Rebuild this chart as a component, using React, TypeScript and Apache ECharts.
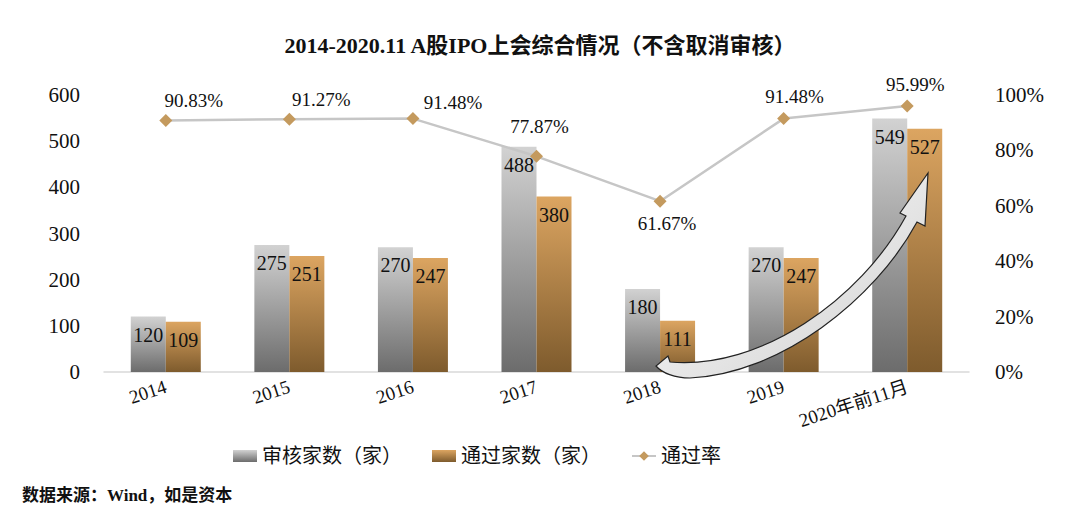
import React, { useEffect, useRef } from "react";
import * as echarts from "echarts";

const categories = ["2014", "2015", "2016", "2017", "2018", "2019", "2020年前11月"];
const reviewed = [120, 275, 270, 488, 180, 270, 549];
const passed = [109, 251, 247, 380, 111, 247, 527];
const passRate = [90.83, 91.27, 91.48, 77.87, 61.67, 91.48, 95.99];
const leftTicks = [0, 600, 100];
const rightTicks = [0, 100, 20];

const rateLabelOffsets: [number, number][] = [
  [28, 2], [32, 2], [40, 6], [3, -8], [7, 0], [11, 0], [8, 0],
];
const rateLabelPos = ["top", "top", "top", "top", "bottom", "top", "top"];

const SERIF = "'Liberation Serif', 'DejaVu Serif', 'Noto Sans CJK SC', serif";

const arrowPath =
  "M 670 362 C 760 370, 860 300, 906 216 L 900 213 L 928 173 L 925 226 L 917 222 C 875 300, 780 374, 690 378 C 675 378, 662 373, 656 366 L 668 356 Z";

export default function App() {
  const ref = useRef<HTMLDivElement>(null);
  useEffect(() => {
    document.body.style.margin = "0";
    if (!ref.current) return;
    try {
      echarts.graphic.registerShape("arrowShape", echarts.graphic.extendPath(arrowPath, {}));
    } catch (e) {}
    const chart = echarts.init(ref.current, null, { renderer: "svg" });
    const grayGrad = new echarts.graphic.LinearGradient(0, 0, 0, 1, [
      { offset: 0, color: "#d2d2d2" },
      { offset: 1, color: "#6c6c6c" },
    ]);
    const goldGrad = new echarts.graphic.LinearGradient(0, 0, 0, 1, [
      { offset: 0, color: "#dca561" },
      { offset: 1, color: "#7e5b2d" },
    ]);
    chart.setOption({
      animation: false,
      backgroundColor: "#ffffff",
      title: {
        text: "2014-2020.11 A股IPO上会综合情况（不含取消审核）",
        left: "center",
        top: 29,
        textStyle: { fontFamily: SERIF, fontSize: 22, fontWeight: "bold", color: "#111" },
      },
      grid: { left: 104, right: 111, top: 95, bottom: 153, containLabel: false },
      legend: {
        top: 441,
        left: 228,
        itemWidth: 24,
        itemHeight: 12,
        itemGap: 30,
        textStyle: { fontFamily: SERIF, fontSize: 20, color: "#111" },
        data: [
          { name: "审核家数（家）", icon: "rect" },
          { name: "通过家数（家）", icon: "rect" },
          { name: "通过率" },
        ],
      },
      xAxis: {
        type: "category",
        data: categories,
        axisLine: { show: true, lineStyle: { color: "#d9d9d9", width: 1.5 } },
        axisTick: { show: false },
        axisLabel: {
          rotate: 18,
          margin: 14,
          fontFamily: SERIF,
          fontSize: 19,
          color: "#111",
          interval: 0,
        },
      },
      yAxis: [
        {
          type: "value",
          min: leftTicks[0],
          max: leftTicks[1],
          interval: leftTicks[2],
          splitLine: { show: false },
          axisLine: { show: false },
          axisTick: { show: false },
          axisLabel: { fontFamily: SERIF, fontSize: 21, color: "#111", margin: 24 },
        },
        {
          type: "value",
          min: rightTicks[0],
          max: rightTicks[1],
          interval: rightTicks[2],
          splitLine: { show: false },
          axisLine: { show: false },
          axisTick: { show: false },
          axisLabel: { fontFamily: SERIF, fontSize: 21, color: "#111", margin: 26, formatter: "{value}%" },
        },
      ],
      series: [
        {
          name: "审核家数（家）",
          type: "bar",
          data: reviewed,
          barWidth: 35,
          barGap: "0%",
          itemStyle: { color: grayGrad },
          label: {
            show: true,
            position: "insideTop",
            distance: 8,
            fontFamily: SERIF,
            fontSize: 20,
            color: "#111",
          },
        },
        {
          name: "通过家数（家）",
          type: "bar",
          data: passed,
          barWidth: 35,
          barGap: "0%",
          itemStyle: { color: goldGrad },
          label: {
            show: true,
            position: "insideTop",
            distance: 8,
            fontFamily: SERIF,
            fontSize: 20,
            color: "#111",
          },
        },
        {
          name: "通过率",
          type: "line",
          yAxisIndex: 1,
          data: passRate.map((v, i) => ({
            value: v,
            label: { position: rateLabelPos[i], offset: rateLabelOffsets[i] },
          })),
          symbol: "diamond",
          symbolSize: 13,
          itemStyle: { color: "#c49a5e" },
          lineStyle: { color: "#c6c6c6", width: 2.5 },
          z: 5,
          label: {
            show: true,
            distance: 6,
            fontFamily: SERIF,
            fontSize: 19,
            color: "#111",
            formatter: (p: any) => p.value.toFixed(2) + "%",
          },
        },
      ],
      graphic: [
        {
          type: "arrowShape",
          x: 0,
          y: 0,
          z: 100,
          style: {
            fill: new echarts.graphic.LinearGradient(0, 0, 1, 1, [
              { offset: 0, color: "#ffffff" },
              { offset: 1, color: "#d0d0d0" },
            ]),
            stroke: "#222",
            lineWidth: 1.2,
          },
        },
        {
          type: "text",
          left: 22,
          top: 487,
          z: 100,
          style: {
            text: "数据来源：Wind，如是资本",
            fontFamily: SERIF,
            fontSize: 17,
            fontWeight: "bold",
            fill: "#111",
          },
        },
      ],
    });
    return () => chart.dispose();
  }, []);
  return <div ref={ref} style={{ width: 1080, height: 525 }} />;
}
